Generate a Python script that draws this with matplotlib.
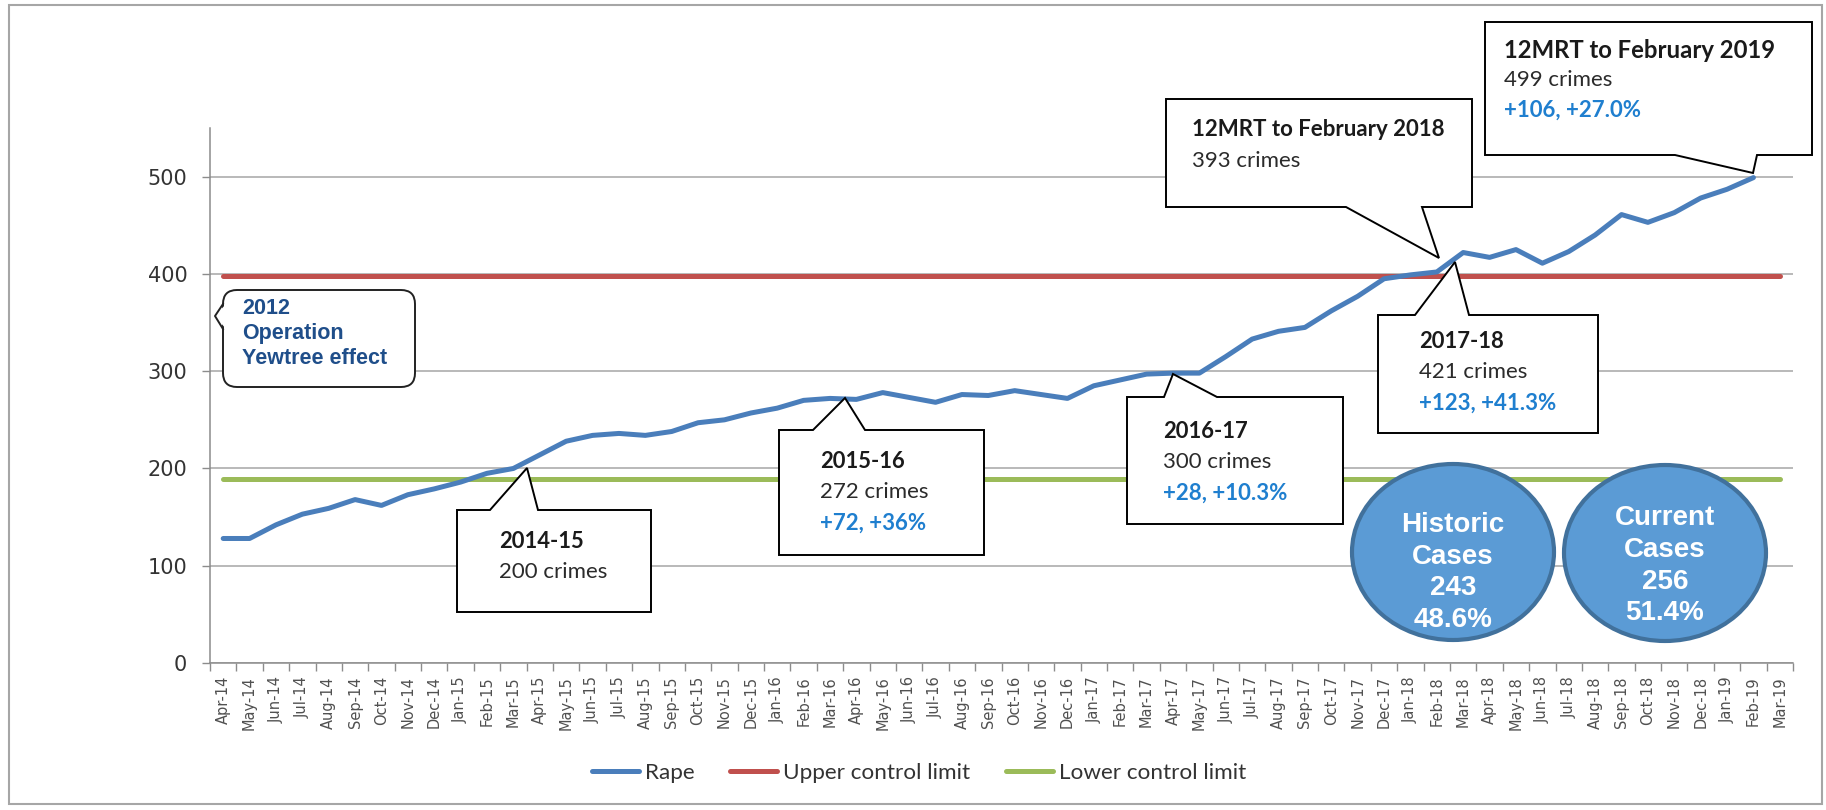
import matplotlib
matplotlib.use('Agg')
import matplotlib.pyplot as plt
from matplotlib.patches import Polygon, FancyBboxPatch, Ellipse, Rectangle
from matplotlib.lines import Line2D
from matplotlib.transforms import Affine2D
import numpy as np

# ---------------- data ----------------
months = ['Apr-14', 'May-14', 'Jun-14', 'Jul-14', 'Aug-14', 'Sep-14', 'Oct-14', 'Nov-14', 'Dec-14',
          'Jan-15', 'Feb-15', 'Mar-15', 'Apr-15', 'May-15', 'Jun-15', 'Jul-15', 'Aug-15', 'Sep-15',
          'Oct-15', 'Nov-15', 'Dec-15', 'Jan-16', 'Feb-16', 'Mar-16', 'Apr-16', 'May-16', 'Jun-16',
          'Jul-16', 'Aug-16', 'Sep-16', 'Oct-16', 'Nov-16', 'Dec-16', 'Jan-17', 'Feb-17', 'Mar-17',
          'Apr-17', 'May-17', 'Jun-17', 'Jul-17', 'Aug-17', 'Sep-17', 'Oct-17', 'Nov-17', 'Dec-17',
          'Jan-18', 'Feb-18', 'Mar-18', 'Apr-18', 'May-18', 'Jun-18', 'Jul-18', 'Aug-18', 'Sep-18',
          'Oct-18', 'Nov-18', 'Dec-18', 'Jan-19', 'Feb-19', 'Mar-19']
rape = [128, 128, 142, 153, 159, 168, 162, 173, 179,
        186, 195, 200, 214, 228, 234, 236, 234, 238,
        247, 250, 257, 262, 270, 272, 271, 278, 273,
        268, 276, 275, 280, 276, 272, 285, 291, 297,
        298, 298, 315, 333, 341, 345, 362, 377, 395,
        399, 402, 422, 417, 425, 411, 423, 440, 461,
        453, 463, 478, 487, 499]
upper_limit = 398
lower_limit = 189
yticks = [0, 100, 200, 300, 400, 500]
series_names = ['Rape', 'Upper control limit', 'Lower control limit']

# ---------------- figure ----------------
W, H = 1826, 810
fig = plt.figure(figsize=(W / 100, H / 100), dpi=100)
fig.patch.set_facecolor('white')
px = Affine2D().scale(1, -1).translate(0, H)  # pixel coords, origin top-left

AX_L, AX_R, AX_T, AX_B = 210, 1793, 128, 663
ax = fig.add_axes([AX_L / W, (H - AX_B) / H, (AX_R - AX_L) / W, (AX_B - AX_T) / H])

x = np.arange(len(months))
blue, red, green = '#4A7EBB', '#C0504D', '#9BBB59'
l1, = ax.plot(x[:len(rape)], rape, color=blue, lw=3.6, solid_capstyle='round',
              solid_joinstyle='round', zorder=4)
l2, = ax.plot(x, [upper_limit] * len(x), color=red, lw=3.6, solid_capstyle='round', zorder=3)
l3, = ax.plot(x, [lower_limit] * len(x), color=green, lw=3.6, solid_capstyle='round', zorder=3)

ax.set_xlim(-0.5, len(months) - 0.5)
ax.set_ylim(0, 550)
ax.set_yticks(yticks)
ax.set_yticklabels([str(v) for v in yticks], fontsize=15, color='#333333', family='DejaVu Sans')
ax.yaxis.grid(True, color='#A6A6A6', lw=1.1, zorder=1)
ax.set_axisbelow(True)
ax.set_xticks(x)
ax.set_xticklabels(months, rotation=90, fontsize=10.5, color='#505050', family='DejaVu Sans',
                   ha='center', va='top')
ax.set_xticks(np.arange(-0.5, len(months)), minor=True)
ax.tick_params(axis='x', which='major', length=0, pad=9.4)
ax.tick_params(axis='x', which='minor', length=5.8, width=1.0, color='#8C8C8C')
ax.tick_params(axis='y', length=5.8, width=1.0, color='#8C8C8C', pad=10.5)
for s in ['top', 'right']:
    ax.spines[s].set_visible(False)
for s in ['left', 'bottom']:
    ax.spines[s].set_color('#8C8C8C')
    ax.spines[s].set_linewidth(1.1)

# legend
fig.legend([l1, l2, l3], series_names, loc='center', bbox_to_anchor=(919 / W, (H - 773) / H),
           ncol=3, frameon=False, handlelength=2.1, handletextpad=0.25, columnspacing=1.6,
           prop={'family': 'Lato', 'size': 16.2}, labelcolor='#333333')

# outer border
fig.add_artist(Rectangle((9, 5), 1813, 799, transform=px, fill=False, edgecolor='#A6A6A6',
                         lw=1.5, zorder=0.5))

# ---------------- callouts ----------------
TITLE_C, TEXT_C, BLUE_C = '#1a1a1a', '#2b2b2b', '#1f7fcf'
FS = 16


def callout(rect, side, base, tip, tx, lines, title_fs=16):
    x0, y0, x1, y1 = rect
    b0, b1 = base
    if side == 'top':
        verts = [(x0, y0), (b0, y0), tip, (b1, y0), (x1, y0), (x1, y1), (x0, y1)]
    else:
        verts = [(x0, y0), (x1, y0), (x1, y1), (b1, y1), tip, (b0, y1), (x0, y1)]
    fig.add_artist(Polygon(verts, closed=True, facecolor='white', edgecolor='black', lw=1.4,
                           transform=px, zorder=5, joinstyle='miter'))
    for s, kind, y in lines:
        fs = FS
        if kind == 'title':
            kw = dict(color=TITLE_C, weight='bold')
            fs = title_fs
        elif kind == 'blue':
            kw = dict(color=BLUE_C, weight='bold')
        else:
            kw = dict(color=TEXT_C)
        fig.text(tx, y, s, transform=px, family='Lato', fontsize=fs, ha='left', va='center',
                 zorder=6, **kw)


callout((457, 510, 651, 612), 'top', (490, 538), (527, 468), 499,
        [('2014-15', 'title', 541), ('200 crimes', 'text', 572)], 15.8)
callout((779, 430, 984, 555), 'top', (813, 865), (845, 398), 820,
        [('2015-16', 'title', 461), ('272 crimes', 'text', 492), ('+72, +36%', 'blue', 523)], 15.8)
callout((1127, 397, 1343, 524), 'top', (1164, 1217), (1173, 374), 1163,
        [('2016-17', 'title', 432), ('300 crimes', 'text', 462), ('+28, +10.3%', 'blue', 493)], 15.8)
callout((1378, 315, 1598, 433), 'top', (1415, 1469), (1455, 262), 1419,
        [('2017-18', 'title', 341), ('421 crimes', 'text', 372), ('+123, +41.3%', 'blue', 403)], 15.8)
callout((1166, 99, 1472, 207), 'bottom', (1346, 1422), (1439, 258), 1192,
        [('12MRT to February 2018', 'title', 130), ('393 crimes', 'text', 161)], 16)
callout((1485, 22, 1812, 155), 'bottom', (1675, 1757), (1753, 173), 1504,
        [('12MRT to February 2019', 'title', 50), ('499 crimes', 'text', 80),
         ('+106, +27.0%', 'blue', 110)], 17.2)

# Yewtree rounded callout
fig.add_artist(FancyBboxPatch((223, 290), 192, 97, boxstyle='round,pad=0,rounding_size=14',
                              transform=px, facecolor='white', edgecolor='#222222', lw=1.4,
                              zorder=5))
fig.add_artist(Polygon([(226, 304), (215, 316), (226, 329)], closed=True, facecolor='white',
                       edgecolor='none', transform=px, zorder=5.1))
fig.add_artist(Line2D([223, 215, 223], [304, 316, 329], color='#222222', lw=1.4,
                      transform=px, zorder=5.2))
for s, y in [('2012', 309), ('Operation', 333), ('Yewtree effect', 358)]:
    fig.text(242, y, s, transform=px, family='Liberation Sans', weight='bold', fontsize=15.5,
             color='#1F4E8A', ha='left', va='center', zorder=6)

# ---------------- circles ----------------
for cx, cy, lines in [(1453, 552, [('Historic', 525), ('Cases', 557), ('243', 588), ('48.6%', 620)]),
                      (1665, 553, [('Current', 518), ('Cases', 550), ('256', 582), ('51.4%', 613)])]:
    fig.add_artist(Ellipse((cx, cy), 202, 176, transform=px, facecolor='#5B9BD5',
                           edgecolor='#41719C', lw=3.0, zorder=5))
    for s, y in lines:
        fig.text(cx, y, s, transform=px, family='Liberation Sans', weight='bold', fontsize=20,
                 color='white', ha='center', va='center', zorder=6)

fig.savefig('out.png', dpi=100, facecolor='white')
